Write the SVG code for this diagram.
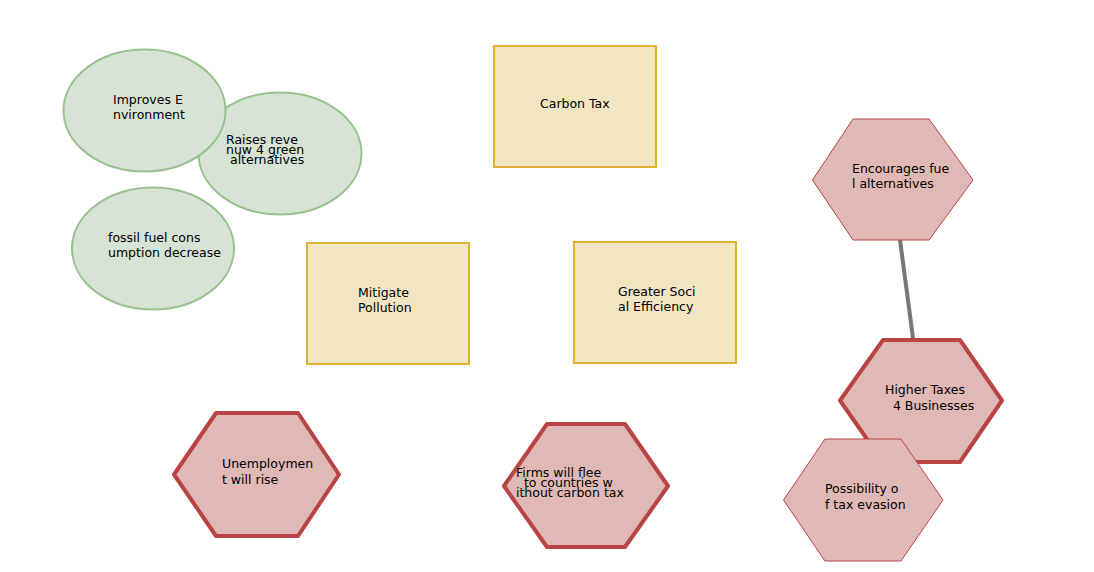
<svg xmlns="http://www.w3.org/2000/svg" width="1094" height="572" viewBox="0 0 1094 572">
<style>
text{font-family:"DejaVu Sans","Liberation Sans",sans-serif;font-size:12.5px;fill:#000}
.ell{fill:#d7e4d5;stroke:#98c18f;stroke-width:2}
.rect{fill:#f2e5c1;stroke:#e0b232;stroke-width:2}
.hex{fill:#e0b9b6;stroke:#b84444;stroke-width:1}
.hexb{fill:#e0b9b6;stroke:#b84444;stroke-width:4;stroke-linejoin:round}
</style>
<rect width="1094" height="572" fill="#fff"/>
<g id="connectors">
<line x1="900" y1="240" x2="913" y2="338" stroke="#777" stroke-width="4"/>
</g>
<g id="raises">
<ellipse class="ell" cx="280" cy="153.5" rx="81.5" ry="61"/>
<text x="226" y="144">Raises reve</text>
<text x="226" y="154">nuw 4 green</text>
<text x="226" y="164" xml:space="preserve"> alternatives</text>
</g>
<g id="improves">
<ellipse class="ell" cx="144.5" cy="110.5" rx="81" ry="61"/>
<text x="113" y="104">Improves E</text>
<text x="113" y="119">nvironment</text>
</g>
<g id="fossil">
<ellipse class="ell" cx="153" cy="248.5" rx="81" ry="61"/>
<text x="108" y="242">fossil fuel cons</text>
<text x="108" y="257">umption decrease</text>
</g>
<g id="carbon-tax">
<rect class="rect" x="494" y="46" width="162" height="121"/>
<text x="540" y="108">Carbon Tax</text>
</g>
<g id="mitigate">
<rect class="rect" x="307" y="243" width="162" height="121"/>
<text x="358" y="297">Mitigate</text>
<text x="358" y="312">Pollution</text>
</g>
<g id="greater">
<rect class="rect" x="574" y="242" width="162" height="121"/>
<text x="618" y="296">Greater Soci</text>
<text x="618" y="311">al Efficiency</text>
</g>
<g id="encourages">
<polygon class="hex" points="812.5,180 853,119 929,119 973,180 929,240 853,240"/>
<text x="852" y="173">Encourages fue</text>
<text x="852" y="188">l alternatives</text>
</g>
<g id="higher-taxes">
<polygon class="hexb" points="840,400.5 883,340 960,340 1002,400.5 960,462 883,462"/>
<text x="885" y="394">Higher Taxes</text>
<text x="885" y="410" xml:space="preserve">  4 Businesses</text>
</g>
<g id="possibility">
<polygon class="hex" points="783.5,500 825,439 901,439 943,500 901,561 825,561"/>
<text x="825" y="493">Possibility o</text>
<text x="825" y="509">f tax evasion</text>
</g>
<g id="unemployment">
<polygon class="hexb" points="174,474.5 216,413 298,413 339,474.5 298,536 216,536"/>
<text x="222" y="468">Unemploymen</text>
<text x="222" y="484">t will rise</text>
</g>
<g id="firms">
<polygon class="hexb" points="504,486 547,424 625,424 668,486 625,547 547,547"/>
<text x="516" y="477">Firms will flee</text>
<text x="516" y="487" xml:space="preserve">  to countries w</text>
<text x="516" y="497">ithout carbon tax</text>
</g>
</svg>
